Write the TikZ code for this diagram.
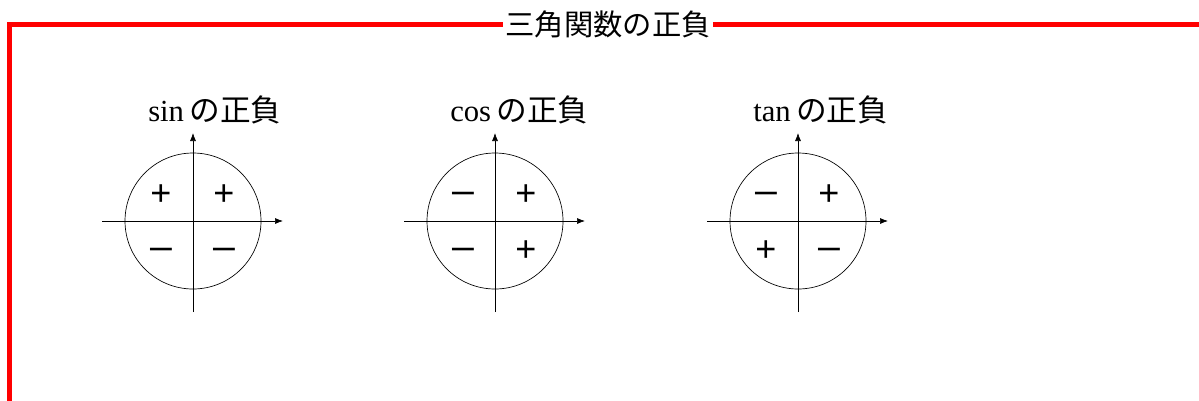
\documentclass[tikz,border=0pt]{standalone}
\usepackage{fontspec}
\setmainfont{Liberation Serif}
\newfontfamily\jpfont{Noto Sans CJK JP}
\newfontfamily\signfont{Liberation Sans}
\usetikzlibrary{arrows.meta}
\definecolor{framered}{HTML}{FF0000}
\newcommand{\longminus}{\scalebox{1.25}[1]{−}}

\begin{document}
\begin{tikzpicture}[x=0.75pt,y=-0.75pt, frame/.style={draw=framered,line width=3.75pt}, heading/.style={fill=white,inner xsep=1.5pt,inner ysep=2pt,font=\jpfont\fontsize{22}{26}\selectfont}, chartname/.style={anchor=base west,inner sep=0pt,font=\fontsize{23}{27}\selectfont}, unitcircle/.style={circle,draw,line width=0.5pt,minimum size=102pt,inner sep=0pt}, axis/.style={-{Latex[length=6pt,width=4.5pt]},line width=0.5pt}, sign/.style={anchor=base,font=\signfont\fontsize{27}{30}\selectfont,inner sep=0pt}]
\useasboundingbox (0,0) rectangle (1199,400);
% frame with title
\node[heading] (title) at (608,24.5) {三角関数の正負};
\coordinate (framebottom) at (9.5,402);
\coordinate (frameright) at (1202,24.5);
\draw[frame] (framebottom) |- (title.west);
\draw[frame] (title.east) -- (frameright);
% sign charts
\foreach \cx/\fn/\sa/\sb/\sc/\sd in {193/sin/+/+/\longminus/\longminus, 495/cos/\longminus/+/\longminus/+, 798/tan/\longminus/+/+/\longminus}{
  \coordinate (\fn-o) at (\cx,221);
  \coordinate (\fn-w) at (\cx-91,221);
  \coordinate (\fn-e) at (\cx+90,221);
  \coordinate (\fn-s) at (\cx,312);
  \coordinate (\fn-n) at (\cx,133);
  \node[chartname] (\fn-name) at (\cx-45,121) {\fn\hspace{4pt}{\jpfont の正負}};
  \node[unitcircle] (\fn-circle) at (\fn-o) {};
  \draw[axis] (\fn-w) -- (\fn-e);
  \draw[axis] (\fn-s) -- (\fn-n);
  \node[sign] (\fn-q2) at (\cx-32,205) {\sa};
  \node[sign] (\fn-q1) at (\cx+31,205) {\sb};
  \node[sign] (\fn-q3) at (\cx-32,261) {\sc};
  \node[sign] (\fn-q4) at (\cx+31,261) {\sd};
}
\end{tikzpicture}
\end{document}
